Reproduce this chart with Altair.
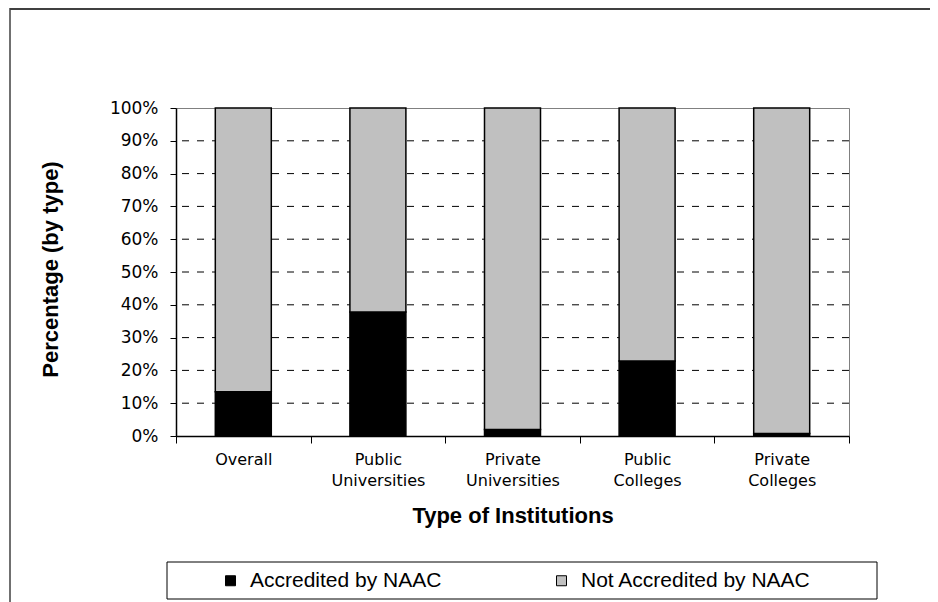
import altair as alt
import pandas as pd

categories = ["Overall", "Public Universities", "Private Universities", "Public Colleges", "Private Colleges"]
accredited = [13.5, 37.8, 2.0, 22.9, 0.8]
not_accredited = [86.5, 62.2, 98.0, 77.1, 99.2]
series = ["Accredited by NAAC", "Not Accredited by NAAC"]
colors = ["#000000", "#C0C0C0"]
y_ticks = [0, 10, 20, 30, 40, 50, 60, 70, 80, 90, 100]
grid_levels = [10, 20, 30, 40, 50, 60, 70, 80, 90]

FONT = "Liberation Sans"
WIDE = "DejaVu Sans"

rows = []
for c, a, n in zip(categories, accredited, not_accredited):
    rows.append({"cat": c, "status": series[0], "value": a, "idx": 0})
    rows.append({"cat": c, "status": series[1], "value": n, "idx": 1})
df = pd.DataFrame(rows)
grid_df = pd.DataFrame({"level": grid_levels})
one = pd.DataFrame({"k": [0]})

W, H = 673, 328
PAD = {"left": 168, "top": 100, "right": 81, "bottom": 166}

y_axis = alt.Axis(
    values=y_ticks, labelExpr="datum.value + '%'", grid=False,
    tickSize=6, tickColor="black", domainColor="black", domainWidth=1.5,
    labelFontSize=17, labelFont=WIDE, labelColor="black", labelPadding=12,
    title="Percentage (by type)", titleFontSize=22, titleFontWeight="bold",
    titleFont=FONT, titleColor="black", titleX=-119, titleY=161,
    titleAngle=270, titleBaseline="alphabetic",
)
y_scale = alt.Scale(domain=[0, 100], nice=False)

x_enc = alt.X(
    "cat:N", sort=categories,
    scale=alt.Scale(paddingInner=0, paddingOuter=0),
    axis=alt.Axis(
        title="Type of Institutions", labelAngle=0,
        labelExpr="split(datum.label, ' ')",
        labelFontSize=16, labelFont=WIDE, labelColor="black",
        labelLineHeight=21, labelPadding=8,
        tickBand="extent", tickSize=7, tickColor="black",
        domainColor="black", domainWidth=1.5,
        titleFontSize=22, titleFontWeight="bold", titleFont=FONT,
        titleColor="black", titleX=W / 2, titleY=79, titleBaseline="middle",
    ),
)

grid = alt.Chart(grid_df).mark_rule(color="black", strokeWidth=1, strokeDash=[7, 8]).encode(
    y=alt.Y("level:Q", scale=y_scale, axis=y_axis)
)

bars = alt.Chart(df).mark_bar(
    width=alt.RelativeBandSize(0.416), stroke="black", strokeWidth=1.5
).encode(
    x=x_enc,
    y=alt.Y("value:Q", stack="zero", scale=y_scale, axis=y_axis),
    color=alt.Color(
        "status:N",
        scale=alt.Scale(domain=series, range=colors),
        legend=alt.Legend(
            title=None, orient="none", legendX=44, legendY=462, padding=0,
            direction="horizontal", symbolType="square", symbolSize=100,
            symbolStrokeColor="black", symbolStrokeWidth=1,
            labelFontSize=21, labelFont=FONT, labelColor="black",
            columnPadding=109, labelOffset=9, labelLimit=0,
        ),
    ),
    order=alt.Order("idx:Q"),
)

legend_box = alt.Chart(one).mark_rect(fill="white", stroke="black", strokeWidth=1).encode(
    x=alt.value(-9), x2=alt.value(701), y=alt.value(454), y2=alt.value(491)
)

frame_top = alt.Chart(one).mark_rule(color="#404040", strokeWidth=2).encode(
    x=alt.value(-166), x2=alt.value(W + PAD["right"]), y=alt.value(-99)
)
frame_left = alt.Chart(one).mark_rule(color="#404040", strokeWidth=1.5).encode(
    x=alt.value(-166), y=alt.value(-100), y2=alt.value(H + PAD["bottom"])
)

chart = alt.layer(frame_top, frame_left, legend_box, grid, bars).properties(
    width=W, height=H,
    autosize=alt.AutoSizeParams(type="none"),
    padding=PAD,
    background="white",
).configure_view(stroke="#808080", strokeWidth=1)

chart.save("out.html", embed_options={"renderer": "svg", "actions": False})
